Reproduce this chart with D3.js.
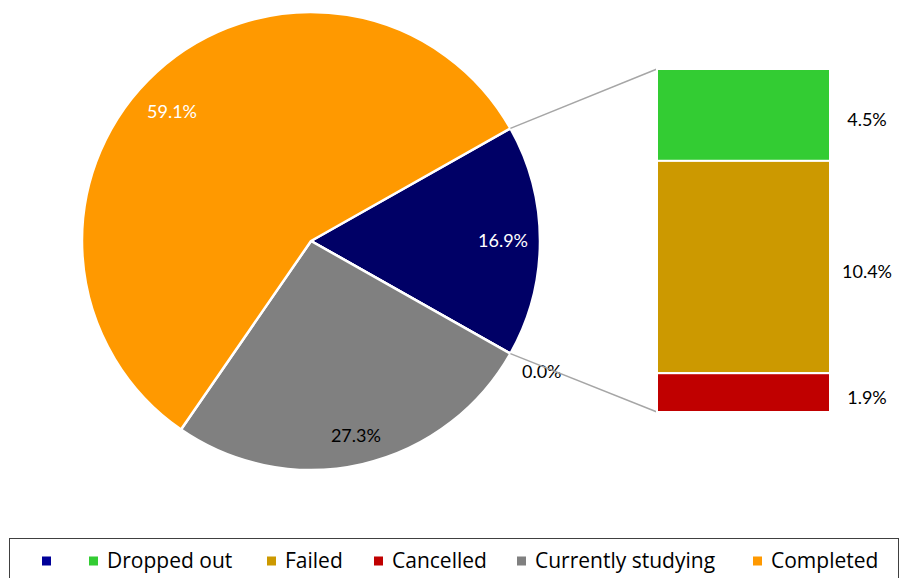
<!DOCTYPE html>
<html>
<head>
<meta charset="utf-8">
<script src="https://cdn.jsdelivr.net/npm/d3@7"></script>
<style>
  body { margin: 0; background: #fff; }
  text { font-family: Lato, "Open Sans", sans-serif; }
  .legend text { font-family: "Open Sans", Lato, sans-serif; }
</style>
</head>
<body>
<div id="chart"></div>
<script>
// pie slices: "other" (navy), a zero slice, currently studying, completed
var pieNames = ["", "", "Currently studying", "Completed"];
var pieValues = [16.9, 0.0, 27.3, 59.1];
var pieColors = ["#000066", "#000066", "#808080", "#FF9900"];
var pieLabelColors = ["#fff", "#000", "#000", "#fff"];

// bar breakdown of the "other" slice
var barNames = ["Dropped out", "Failed", "Cancelled"];
var barValues = [4.5, 10.4, 1.9];
var barColors = ["#33CC33", "#CC9900", "#C00000"];

// legend
var legendNames = ["", "Dropped out", "Failed", "Cancelled", "Currently studying", "Completed"];
var legendColors = ["#000099", "#33CC33", "#CC9900", "#C00000", "#808080", "#FF9900"];

var svgWidth = 901;
var svgHeight = 578;
var cx = 311, cy = 241, radius = 229;

var svg = d3.select("#chart").append("svg")
    .attr("width", svgWidth)
    .attr("height", svgHeight);

var total = d3.sum(pieValues);
var navyAngle = 2 * Math.PI * pieValues[0] / total;
var start = Math.PI / 2 - navyAngle / 2;

var pie = d3.pie().sort(null).value(d => d)
    .startAngle(start).endAngle(start + 2 * Math.PI);
var arcs = pie(pieValues);

var arc = d3.arc().innerRadius(0).outerRadius(radius);
var labelRadius = [192, 265, 200, 190];
// small nudge of the big slice label (Excel places it a bit lower)
var labelShift = [0, 0, 0, 0.08];

var pieGroup = svg.append("g").attr("transform", `translate(${cx}, ${cy})`);

// connector lines from the navy slice to the bar
var barTop = 69, barBottom = 412, barLeft = 657, barRight = 830;
var a0 = arcs[0].startAngle, a1 = arcs[0].endAngle;
var p0 = [cx + radius * Math.sin(a0), cy - radius * Math.cos(a0)];
var p1 = [cx + radius * Math.sin(a1), cy - radius * Math.cos(a1)];
svg.append("line")
    .attr("x1", p0[0]).attr("y1", p0[1])
    .attr("x2", barLeft).attr("y2", barTop)
    .attr("stroke", "#A6A6A6").attr("stroke-width", 1.5);
svg.append("line")
    .attr("x1", p1[0]).attr("y1", p1[1])
    .attr("x2", barLeft).attr("y2", barBottom)
    .attr("stroke", "#A6A6A6").attr("stroke-width", 1.5);

pieGroup.selectAll("path")
    .data(arcs)
    .enter()
    .append("path")
    .attr("d", arc)
    .attr("fill", (d, i) => pieColors[i])
    .attr("stroke", "#fff")
    .attr("stroke-width", 2.5)
    .attr("stroke-linejoin", "round");

pieGroup.selectAll("text.plabel")
    .data(arcs)
    .enter()
    .append("text")
    .attr("class", "plabel")
    .attr("transform", function(d, i) {
        var a = d.value === 0 ? d.startAngle : (d.startAngle + d.endAngle) / 2 - labelShift[i];
        var r = labelRadius[i];
        return `translate(${r * Math.sin(a)}, ${-r * Math.cos(a)})`;
    })
    .attr("text-anchor", "middle")
    .attr("dy", "0.35em")
    .attr("fill", (d, i) => pieLabelColors[i])
    .style("font-size", "18px")
    .text(d => d.value.toFixed(1) + "%");

// stacked bar
var yScale = d3.scaleLinear()
    .domain([0, d3.sum(barValues)])
    .range([barTop, barBottom]);
var cum = 0;
var barData = barValues.map(function(v, i) {
    var d = {v: v, y0: cum, y1: cum + v, i: i};
    cum += v;
    return d;
});

svg.selectAll("rect.bar")
    .data(barData)
    .enter()
    .append("rect")
    .attr("class", "bar")
    .attr("x", barLeft)
    .attr("width", barRight - barLeft)
    .attr("y", d => yScale(d.y0))
    .attr("height", d => yScale(d.y1) - yScale(d.y0))
    .attr("fill", d => barColors[d.i])
    .attr("stroke", "#fff")
    .attr("stroke-width", 2);

svg.selectAll("text.blabel")
    .data(barData)
    .enter()
    .append("text")
    .attr("class", "blabel")
    .attr("x", 867)
    .attr("y", d => (yScale(d.y0) + yScale(d.y1)) / 2 + 5)
    .attr("text-anchor", "middle")
    .attr("dy", "0.35em")
    .style("font-size", "18px")
    .attr("fill", "#000")
    .text(d => d.v.toFixed(1) + "%");

// legend
svg.append("rect")
    .attr("x", 9.5).attr("y", 538.5)
    .attr("width", 889).attr("height", 45)
    .attr("fill", "none")
    .attr("stroke", "#404040")
    .attr("stroke-width", 1);

var legendX = [42, 89, 267, 374, 517, 753];
var legend = svg.selectAll("g.legend")
    .data(legendNames)
    .enter()
    .append("g")
    .attr("class", "legend")
    .attr("transform", (d, i) => `translate(${legendX[i]}, 556.5)`);
legend.append("rect")
    .attr("width", 9).attr("height", 9)
    .attr("fill", (d, i) => legendColors[i]);
legend.append("text")
    .attr("x", 18)
    .attr("y", 11)
    .style("font-size", "21px")
    .attr("fill", "#000")
    .text(d => d);
</script>
</body>
</html>
